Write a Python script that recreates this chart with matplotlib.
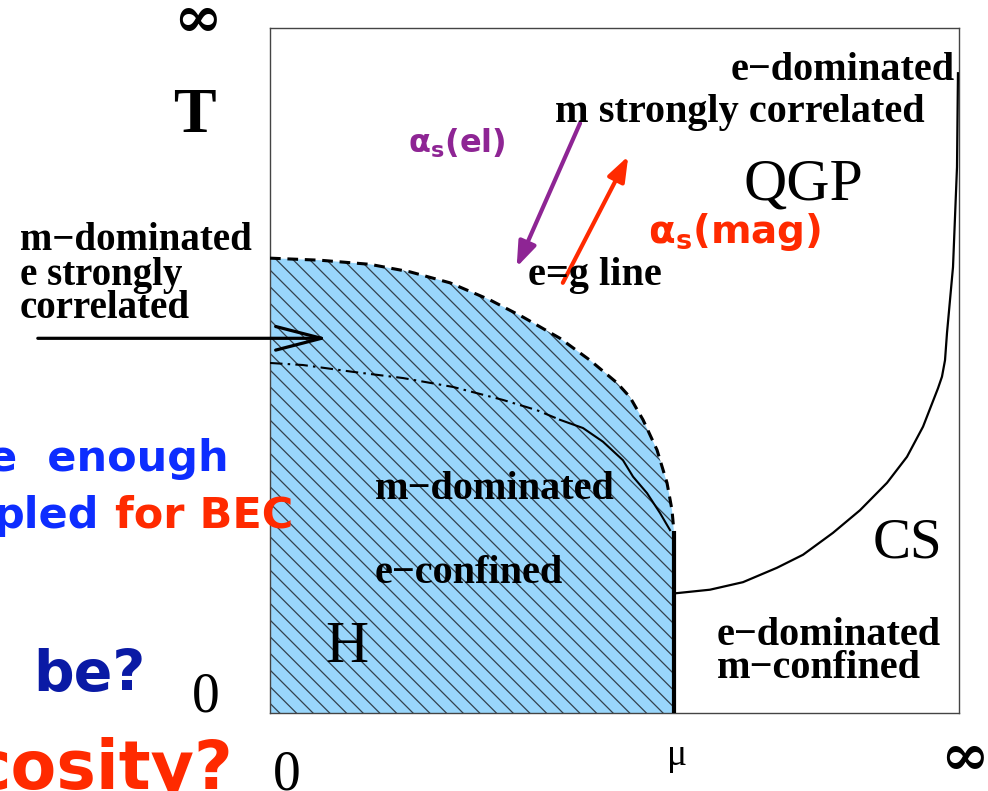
import matplotlib
matplotlib.use('Agg')
import matplotlib.pyplot as plt

plt.rcParams['mathtext.fontset'] = 'dejavusans'
plt.rcParams['mathtext.default'] = 'regular'
plt.rcParams['hatch.linewidth'] = 0.9

W, H = 988, 791

# curvas do diagrama de fases (mu, T), eixo 0..100 nos dois sentidos
mu_dash = [0, 7.26, 14.51, 20.32, 26.12, 31.93, 36.72, 42.09, 46.44, 50.36, 52.25,
           54.14, 56.17, 57.62, 58.35, 58.64, 58.64]
T_dash = [66.4, 66.1, 65.5, 64.4, 62.8, 60.3, 57.8, 54.7, 51.5, 48.2, 46.1,
          42.8, 38.4, 33.6, 29.6, 26.3, 0]

mu_dashdot = [0, 4.79, 12.05, 19.30, 26.56, 33.82, 38.75, 42.09]
T_dashdot = [51.1, 50.8, 49.8, 48.9, 47.6, 45.7, 44.2, 42.8]

mu_solid = [42.09, 45.43, 48.33, 51.23, 52.69, 54.72, 56.60, 58.06]
T_solid = [42.8, 41.6, 39.6, 36.9, 34.5, 32.1, 29.2, 26.7]

mu_vert = [58.7, 58.7]
T_vert = [0, 26.5]

mu_cs = [59.07, 63.86, 68.65, 73.58, 77.36, 81.71, 85.63, 89.55, 92.45, 94.78,
         96.95, 97.53, 97.97, 98.26, 99.13, 99.71, 99.85]
T_cs = [17.5, 18.0, 19.1, 21.2, 23.1, 26.3, 29.6, 33.6, 37.4, 41.8,
        47.4, 49.1, 51.5, 55.5, 65.1, 79.7, 93.4]

# setas (inicio, fim) em unidades do diagrama
seta_preta = [(-33.7, 54.7), (8.4, 54.7)]
seta_el = [(45.0, 86.1), (35.8, 65.1)]
seta_mag = [(42.5, 62.8), (52.0, 81.3)]

fig = plt.figure(figsize=(W / 100, H / 100), dpi=100)
ax = fig.add_axes([270 / W, 1 - 713 / H, 689 / W, 685 / H])
ax.set_xlim(0, 100)
ax.set_ylim(0, 100)
ax.set_xticks([])
ax.set_yticks([])
for s in ax.spines.values():
    s.set_color('#444444')
    s.set_linewidth(1.0)

# regiao hadronica azul com hachura
ax.fill(mu_dash + [0], T_dash + [0], facecolor='#99d6fb', edgecolor='none', zorder=1)
ax.fill(mu_dash + [0], T_dash + [0], facecolor='none', edgecolor='#33414c',
        hatch='\\\\', linewidth=0, zorder=2)

ax.plot(mu_dash, T_dash, color='black', lw=2.2, dashes=(3.5, 2.2), zorder=3)
ax.plot(mu_dashdot, T_dashdot, color='black', lw=1.5, dashes=(6, 2.5, 1.2, 2.5), zorder=3)
ax.plot(mu_solid, T_solid, color='black', lw=1.5, zorder=3)
ax.plot(mu_vert, T_vert, color='black', lw=3.0, zorder=4, solid_capstyle='butt')
ax.plot(mu_cs, T_cs, color='black', lw=1.6, zorder=3)

ax.annotate('', xy=seta_preta[1], xytext=seta_preta[0], annotation_clip=False,
            arrowprops=dict(arrowstyle='->,head_length=3.3,head_width=0.85', lw=2.3,
                            color='black', shrinkA=0, shrinkB=0))
ax.annotate('', xy=seta_el[1], xytext=seta_el[0], annotation_clip=False,
            arrowprops=dict(arrowstyle='-|>,head_length=1.5,head_width=0.55', lw=3,
                            color='#8e2594', shrinkA=0, shrinkB=0))
ax.annotate('', xy=seta_mag[1], xytext=seta_mag[0], annotation_clip=False,
            arrowprops=dict(arrowstyle='-|>,head_length=1.5,head_width=0.55', lw=3,
                            color='#ff2a00', shrinkA=0, shrinkB=0))


def px(x, y):
    return x / W, 1 - y / H


serif = 'Liberation Serif'
sans = 'DejaVu Sans'

def txt(x, y, s, **kw):
    kw.setdefault('va', 'baseline')
    fig.text(*px(x, y), s, zorder=5, **kw)

# rotulos do eixo
txt(197, 21, '∞', family='DejaVu Serif', weight='bold', size=42, ha='center', va='center')
txt(194, 132, 'T', family=serif, weight='bold', size=46, ha='center')
txt(206, 712, '0', family=serif, size=40, ha='center')
txt(287, 790, '0', family=serif, size=40, ha='center')
txt(677, 765, 'μ', family=serif, size=27, ha='center')
txt(964, 759, '∞', family='DejaVu Serif', weight='bold', size=42, ha='center', va='center')

# texto da esquerda
for linha, yb in [('m−dominated', 250), ('e strongly', 285), ('correlated', 318)]:
    txt(20, yb, linha, family=serif, weight='bold', size=28, ha='left')

# texto do slide (cortado na borda)
txt(229, 471, 'e  enough', family=sans, weight='bold', size=31, color='#0d2dff', ha='right')
txt(99, 528, 'pled', family=sans, weight='bold', size=31, color='#0d2dff', ha='right')
txt(115, 528, 'for BEC', family=sans, weight='bold', size=31, color='#ff2a00', ha='left')
txt(33, 691, 'be?', family=sans, weight='bold', size=41, color='#0a1aa5', ha='left')
txt(233, 789, 'cosity?', family=sans, weight='bold', size=48, color='#ff2a00', ha='right')

# regioes do diagrama
txt(955, 80, 'e−dominated', family=serif, weight='bold', size=29, ha='right')
txt(555, 122, 'm strongly correlated', family=serif, weight='bold', size=29, ha='left')
txt(743, 200, 'QGP', family=serif, size=43, ha='left')
txt(408, 153, r'$\alpha_{\mathbf{s}}$(el)', family=sans, weight='bold', size=23,
    color='#8e2594', ha='left')
txt(648, 243, r'$\alpha_{\mathbf{s}}$(mag)', family=sans, weight='bold', size=28,
    color='#ff2a00', ha='left')
txt(528, 285, 'e=g line', family=serif, weight='bold', size=29, ha='left')
txt(375, 499, 'm−dominated', family=serif, weight='bold', size=29, ha='left')
txt(375, 583, 'e−confined', family=serif, weight='bold', size=29, ha='left')
txt(325, 662, 'H', family=serif, size=43, ha='left')
txt(873, 558, 'CS', family=serif, size=41, ha='left')
txt(717, 645, 'e−dominated', family=serif, weight='bold', size=29, ha='left')
txt(717, 678, 'm−confined', family=serif, weight='bold', size=29, ha='left')

fig.savefig('out.png', dpi=100)
